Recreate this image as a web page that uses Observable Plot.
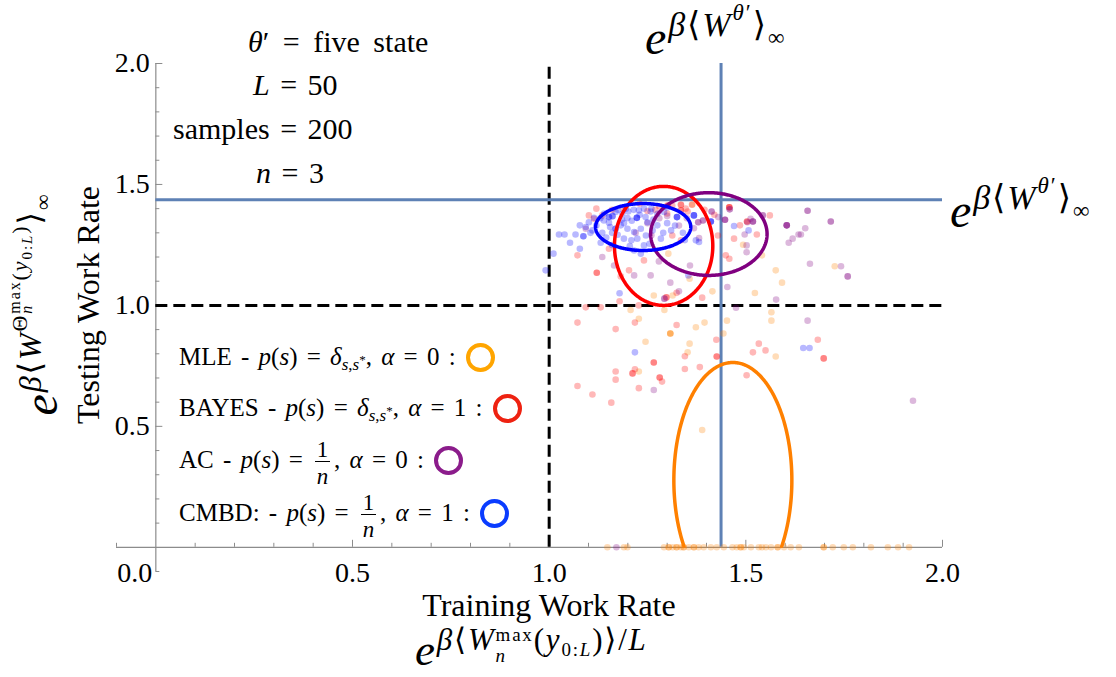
<!DOCTYPE html>
<html>
<head>
<meta charset="utf-8">
<script src="https://cdn.jsdelivr.net/npm/d3@7"></script>
<script src="https://cdn.jsdelivr.net/npm/@observablehq/plot@0.6"></script>
<style>
  html, body { margin: 0; padding: 0; background: #fff; overflow: hidden; }
  #wrap { position: relative; width: 1116px; height: 677px; overflow: hidden;
          font-family: "Liberation Serif", "DejaVu Serif", serif; color: #000; }
  #wrap svg { position: absolute; left: 0; top: 0; }
  .lbl { position: absolute; white-space: nowrap; line-height: 1; }
  .lbl i { font-style: italic; }
  .math { letter-spacing: 0.04em; }
  .up { position: relative; }
  .stack { position: relative; display: inline-block; }
  .stack .lo { position: absolute; left: 0; }
  .frac { position: relative; display: inline-block; width: 15px; height: 0; margin: 0 4px 0 3px; }
  .frac .num { position: absolute; left: 0; right: 0; bottom: 6px; text-align: center; font-size: 23px;
               line-height: 1; border-bottom: 1.3px solid #000; }
  .frac .den { position: absolute; left: 0; right: 0; top: -3px; text-align: center; font-size: 23px; line-height: 1; }
  .ring { position: relative; display: inline-block; width: 29px; height: 0; margin-left: 10px; }
  .ring span { position: absolute; left: 0; top: -22px; width: 21px; height: 21px; border: 4px solid; border-radius: 50%; }
  .legend { word-spacing: 3px; }
  .setting { word-spacing: 3px; }
  .wide { word-spacing: 6px; }
</style>
</head>
<body>
<div id="wrap"></div>
<script>
// ---- axes -------------------------------------------------------------
const axisMin = -0.1;
const axisMax = 2.0;
const majorTicks = [0.5, 1.0, 1.5, 2.0];
const minorTicks = [-0.1, 0.1, 0.2, 0.3, 0.4, 0.6, 0.7, 0.8, 0.9, 1.1, 1.2, 1.3, 1.4, 1.6, 1.7, 1.8, 1.9];
const originLabel = "0.0";

// ---- reference rates ----------------------------------------------------
const baselineRate = 1.0;       // dashed guides
const trueRate = 1.437;         // e^{β<W^θ'>∞}

// ---- estimators (legend order) ----------------------------------------------
const methods = ["MLE", "BAYES", "AC", "CMBD:"];
const priors = ["delta", "delta", "uniform", "uniform"];
const alphas = [0, 1, 0, 1];

// ---- mean/spread ellipses for each estimator ----------------------------------
const ellipseCx = [1.467, 1.291, 1.406, 1.239];
const ellipseCy = [0.277, 1.246, 1.295, 1.324];
const ellipseRx = [0.150, 0.125, 0.148, 0.121];
const ellipseRy = [0.487, 0.246, 0.171, 0.097];

// ---- sampled (training rate, testing rate) pairs ---------------------------------
const mleSamples = [
  [1.364,1.417],[1.493,1.251],[1.541,1.207],[1.576,1.145],[1.303,1.214],[1.726,1.162],[1.357,1.110],
  [1.415,1.058],[1.266,1.041],[1.314,1.041],[1.523,1.051],[1.592,1.094],[1.207,0.981],[1.228,0.945],
  [1.308,0.884],[1.308,0.884],[1.308,0.884],[1.373,0.910],[1.395,0.929],[1.452,0.937],[1.443,0.884],
  [1.565,0.972],[1.565,0.937],[1.576,0.789],[1.245,0.850],[1.357,0.842],[1.352,0.806],[1.228,0.727],
  [1.389,0.485],[1.293,0.981],
  [1.148,0],[1.190,0],[1.199,0],[1.292,0],[1.304,0],[1.304,0],[1.314,0],[1.324,0],[1.324,0],[1.335,0],
  [1.342,0],[1.342,0],[1.355,0],[1.368,0],[1.368,0],[1.380,0],[1.393,0],[1.411,0],[1.426,0],[1.444,0],
  [1.466,0],[1.477,0],[1.487,0],[1.487,0],[1.495,0],[1.513,0],[1.533,0],[1.541,0],[1.551,0],[1.564,0],
  [1.581,0],[1.581,0],[1.597,0],[1.614,0],[1.635,0],[1.698,0],[1.698,0],[1.721,0],[1.749,0],[1.772,0],
  [1.818,0],[1.861,0],[1.887,0],[1.915,0]
];
const bayesSamples = [
  [1.101,1.372],[1.114,1.358],[1.135,1.372],[1.072,1.207],[1.152,1.234],[1.121,1.135],[1.121,1.135],
  [1.203,1.145],[1.241,1.186],[1.347,1.400],[1.335,1.416],[1.335,1.416],[1.352,1.388],[1.363,1.416],
  [1.313,1.413],[1.458,1.406],[1.458,1.406],[1.458,1.406],[1.503,1.347],[1.503,1.347],[1.485,1.331],
  [1.528,1.293],[1.470,1.276],[1.561,1.372],[1.429,1.289],[1.335,1.269],[1.313,1.289],[1.449,1.207],
  [1.458,1.193],[1.190,1.400],[1.250,1.390],[1.280,1.410],[1.230,1.420],[1.160,1.395],[1.120,1.400],
  [1.301,1.413],[1.301,1.413],[1.335,1.393],[1.335,1.393],[1.300,1.380],[1.270,1.395],[1.395,1.395],[1.420,1.375],
  [1.298,1.033],[1.298,1.033],[1.389,1.032],[1.324,1.052],[1.179,1.017],[1.182,1.120],[1.093,0.992],
  [1.131,0.992],[1.228,1.000],[1.072,0.929],[1.169,0.902],[1.218,0.929],[1.324,0.919],[1.425,0.858],
  [1.533,0.842],[1.518,0.806],[1.550,0.814],[1.683,0.858],[1.698,0.781],[1.698,0.781],[1.426,0.789],
  [1.426,0.789],[1.266,0.764],[1.266,0.764],[1.345,0.790],[1.383,0.745],[1.345,0.737],[1.169,0.727],
  [1.218,0.736],[1.212,0.719],[1.212,0.719],[1.281,0.702],[1.281,0.702],[1.287,0.685],[1.169,0.693],
  [1.072,0.667],[1.110,0.632],[1.228,0.658],[1.158,0.598],[1.502,0.711]
];
const acSamples = [
  [1.657,1.391],[1.657,1.391],[1.716,1.347],[1.716,1.347],[1.663,1.172],[1.742,1.162],[1.759,1.120],
  [1.759,1.120],[1.640,1.293],[1.604,1.331],[1.604,1.331],[1.604,1.331],[1.604,1.331],[1.651,1.319],
  [1.619,1.276],[1.634,1.293],[1.609,1.259],[1.543,1.372],[1.543,1.372],[1.518,1.347],[1.518,1.347],
  [1.518,1.347],[1.512,1.358],[1.497,1.293],[1.502,1.248],[1.502,1.220],[1.447,1.354],[1.447,1.354],
  [1.447,1.354],[1.459,1.397],[1.459,1.397],[1.413,1.388],[1.413,1.388],[1.391,1.351],[1.391,1.351],
  [1.379,1.344],[1.379,1.344],[1.430,1.365],[1.368,1.319],[1.381,1.278],[1.358,1.165],[1.135,1.200],
  [1.165,1.165],[1.216,1.124],[1.258,1.124],[1.279,1.182],[1.093,1.317],[1.308,1.094],[1.330,1.058],
  [1.293,1.028],[1.293,1.028],[1.453,1.076],[1.577,1.024],[1.266,0.650],[1.657,0.937],[1.925,0.606],
  [1.475,0.990],[1.171,0],[1.250,1.340],[1.280,1.360],[1.220,1.300],[1.300,1.370],[1.330,1.330],
  [1.260,1.290],[1.350,1.360],[1.504,1.344]
];
const cmbdSamples = [
  [1.025,1.293],[1.039,1.293],[1.067,1.293],[1.053,1.259],[1.011,1.214],[0.991,1.145],[1.078,1.234],
  [1.087,1.286],[1.087,1.286],[1.078,1.331],[1.093,1.324],[1.101,1.344],[1.114,1.362],[1.131,1.259],
  [1.139,1.351],[1.152,1.342],[1.161,1.369],[1.161,1.369],[1.169,1.386],[1.155,1.324],[1.186,1.379],
  [1.199,1.361],[1.223,1.362],[1.223,1.362],[1.223,1.362],[1.201,1.388],[1.228,1.393],[1.241,1.400],
  [1.258,1.388],[1.275,1.379],[1.292,1.386],[1.174,1.292],[1.190,1.276],[1.209,1.269],[1.224,1.276],
  [1.233,1.317],[1.250,1.344],[1.182,1.331],[1.199,1.317],[1.216,1.303],[1.246,1.289],[1.263,1.310],
  [1.275,1.331],[1.284,1.276],[1.241,1.248],[1.216,1.227],[1.233,1.214],[1.169,1.317],[1.169,1.317],
  [1.152,1.365],[1.152,1.365],[1.325,1.365],[1.325,1.365],[1.325,1.365],[1.368,1.372],[1.368,1.372],
  [1.368,1.372],[1.411,1.347],[1.411,1.347],[1.411,1.347],[1.507,1.310],[1.470,1.328],[1.381,1.262],
  [1.373,1.269],[1.354,1.124],[1.218,0.806],[1.646,0.824],[1.662,0.824],[1.179,1.050],[1.120,1.330],
  [1.105,1.300],[1.135,1.300],[1.145,1.280],[1.160,1.250],[1.190,1.340],[1.210,1.350],[1.265,1.355],
  [1.300,1.340],[1.310,1.310],[1.290,1.300],[1.320,1.330],[1.260,1.400],[1.300,1.405],[1.175,1.395],
  [1.140,1.380],[1.130,1.360],[1.110,1.310],[1.195,1.400],[1.215,1.395],[1.230,1.375],[1.245,1.365],
  [1.185,1.355],[1.160,1.300],[1.340,1.300],[1.345,1.270],[1.205,1.245],[1.255,1.255]
];

// ---- styling ------------------------------------------------------------------
const axisGray = "#8c8c8c";
const pointColors = ["#ff8000", "#ff0000", "#800080", "#0000ff"];
const ringColors = ["#ffa500", "#ee2211", "#8b1c8b", "#0a3cff"];
const refBlue = "#5e81b5";
const serif = "'Liberation Serif', 'DejaVu Serif', serif";

// Outline of an ellipse, broken where it would dip below the x axis.
function ellipseOutline(i) {
  return d3.range(0, 361).map(a => {
    const t = a * Math.PI / 180;
    const y = ellipseCy[i] + ellipseRy[i] * Math.sin(t);
    return {x: ellipseCx[i] + ellipseRx[i] * Math.cos(t), y: y >= 0 ? y : NaN};
  });
}

const sampleSets = [mleSamples, bayesSamples, acSamples, cmbdSamples];
const tickText = {fontSize: 28, fontFamily: serif, fill: "#000"};

const chart = Plot.plot({
  width: 1116,
  height: 677,
  marginLeft: 116,
  marginRight: 174,
  marginTop: 63,
  marginBottom: 106,
  x: {domain: [axisMin, axisMax], axis: null},
  y: {domain: [axisMin, axisMax], axis: null},
  style: {background: "transparent", fontFamily: serif, color: "#000", overflow: "visible"},
  marks: [
    // axes crossing at the origin
    Plot.ruleY([0], {x1: axisMin, x2: axisMax, stroke: axisGray, strokeWidth: 1.2}),
    Plot.ruleX([0], {y1: axisMin, y2: axisMax, stroke: axisGray, strokeWidth: 1.2}),
    // inward ticks
    Plot.ruleX(minorTicks, {x: d => d, y1: 0, y2: 0, insetTop: -4, stroke: axisGray}),
    Plot.ruleX(majorTicks, {x: d => d, y1: 0, y2: 0, insetTop: -7, stroke: axisGray}),
    Plot.ruleY(minorTicks, {y: d => d, x1: 0, x2: 0, insetRight: -4, stroke: axisGray}),
    Plot.ruleY(majorTicks, {y: d => d, x1: 0, x2: 0, insetRight: -7, stroke: axisGray}),
    // tick labels
    Plot.text(majorTicks, {x: d => d, y: axisMin, text: d => d.toFixed(1), dy: 2, ...tickText}),
    Plot.text(majorTicks, {x: 0, y: d => d, text: d => d.toFixed(1), textAnchor: "end", dx: -6, ...tickText}),
    Plot.text([originLabel], {x: 0, y: 0, text: d => d, dx: -21, dy: 26, ...tickText}),
    // reference rates
    Plot.ruleX([baselineRate], {y1: 0, y2: axisMax, stroke: "#000", strokeWidth: 3, strokeDasharray: "12,6"}),
    Plot.ruleY([baselineRate], {x1: 0, x2: axisMax, stroke: "#000", strokeWidth: 3, strokeDasharray: "12,6"}),
    Plot.ruleX([trueRate], {y1: 0, y2: axisMax, stroke: refBlue, strokeWidth: 3}),
    Plot.ruleY([trueRate], {x1: 0, x2: axisMax, stroke: refBlue, strokeWidth: 3}),
    // samples
    ...sampleSets.map((set, i) =>
      Plot.dot(set, {x: d => d[0], y: d => d[1], r: 3.3, fill: pointColors[i], fillOpacity: 0.28, stroke: null})
    ),
    // spread ellipses
    ...methods.map((m, i) =>
      Plot.line(ellipseOutline(i), {x: "x", y: "y", stroke: pointColors[i], strokeWidth: 3.5})
    )
  ]
});

const wrap = document.getElementById("wrap");
wrap.appendChild(chart);

// ---- text overlays ------------------------------------------------------------
// Baseline placement: with line-height 1 the baseline sits 0.8375em below the box top.
function label(html, {x, baseline, size, anchor = "start", cls = ""}) {
  const d = document.createElement("div");
  d.className = "lbl " + cls;
  d.style.fontSize = size + "px";
  d.style.left = x + "px";
  d.style.top = (baseline - 0.8375 * size) + "px";
  if (anchor === "middle") d.style.transform = "translateX(-50%)";
  if (anchor === "end") d.style.transform = "translateX(-100%)";
  d.innerHTML = html;
  wrap.appendChild(d);
  return d;
}
function vlabel(html, {cx, cy, size, cls = ""}) {
  const d = document.createElement("div");
  d.className = "lbl " + cls;
  d.style.fontSize = size + "px";
  d.style.left = cx + "px";
  d.style.top = cy + "px";
  d.style.transform = "translate(-50%,-50%) rotate(-90deg)";
  d.innerHTML = html;
  wrap.appendChild(d);
  return d;
}
const sup = (html, size, shift) => `<span class="up" style="font-size:${size}px;top:${shift}px">${html}</span>`;
const stack = (hi, lo, size, hiShift, loShift) =>
  `<span class="stack" style="font-size:${size}px"><span class="up" style="top:${hiShift}px">${hi}</span>` +
  `<span class="lo" style="top:${loShift}px">${lo}</span></span>`;
const frac = (num, den) => `<span class="frac"><span class="num">${num}</span><span class="den">${den}</span></span>`;

// e^{β<W^θ'>∞}
const expTrue = `<i>e</i>` + sup(`<i>β</i>⟨<i>W</i>` + sup(`<i>θ</i>′`, 23, -16) + `⟩` + sup(`∞`, 23, 9), 34, -18);
label(expTrue, {x: 645, baseline: 54, size: 48, cls: "math"});
label(expTrue, {x: 950, baseline: 227, size: 48, cls: "math"});

// run settings
const settings = [
  [`<i>θ</i>′ = five state`, 248, 52, "setting wide"],
  [`<i>L</i> = 50`, 253, 95, "setting"],
  [`samples = 200`, 173, 139, "setting"],
  [`<i>n</i> = 3`, 256, 183, "setting"]
];
settings.forEach(([html, x, b, cls]) => label(html, {x, baseline: b, size: 30, cls}));

// axis titles
label("Training Work Rate", {x: 549, baseline: 616, size: 32, anchor: "middle"});
label(`<i>e</i>` + sup(`<i>β</i>⟨<i>W</i>` + stack("max", "<i>n</i>", 19, -9, 12) + `(<i>y</i>` +
      sup(`0:<i>L</i>`, 19, 6) + `)⟩/<i>L</i>`, 31, -15), {x: 415, baseline: 666, size: 45, cls: "math"});
vlabel("Testing Work Rate", {cx: 88, cy: 305, size: 32});
vlabel(`<i>e</i>` + sup(`<i>β</i>⟨<i>W</i>` + sup(`Θ` + stack("max", "<i>n</i>", 16, -7, 5) + `(<i>y</i>` +
       sup(`0:<i>L</i>`, 15, 5) + `)`, 22, -14) + `⟩` + sup(`∞`, 22, 9), 32, -16), {cx: 41, cy: 304, size: 48, cls: "math"});

// legend
const delta = `<i>δ</i>` + sup(`<i>s</i>,<i>s</i>` + sup(`*`, 13, -6), 17, 5);
const legendBaselines = [365, 416, 468, 521];
methods.forEach((m, i) => {
  const prior = priors[i] === "delta" ? delta : frac("1", "<i>n</i>");
  const html = `${m} - <i>p</i>(<i>s</i>) = ${prior}, <i>α</i> = ${alphas[i]} :` +
               `<span class="ring"><span style="border-color:${ringColors[i]}"></span></span>`;
  label(html, {x: 179, baseline: legendBaselines[i], size: 25, cls: "legend"});
});
</script>
</body>
</html>
